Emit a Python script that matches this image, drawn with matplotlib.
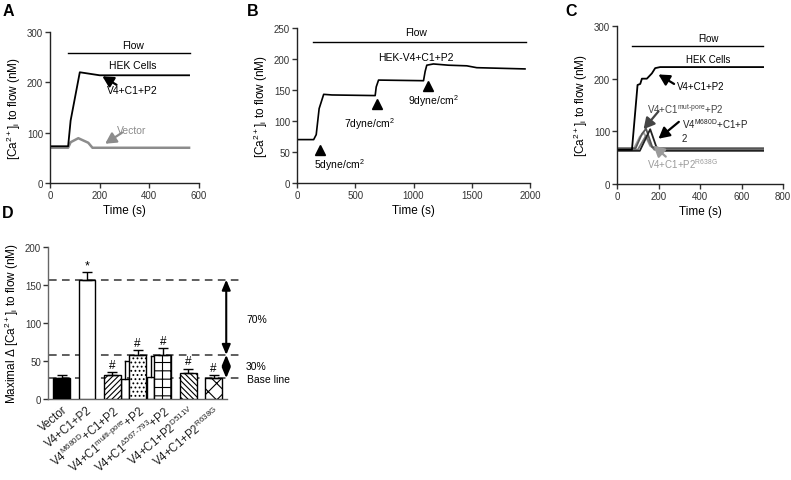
import matplotlib
matplotlib.use("Agg")
import matplotlib.pyplot as plt
import numpy as np

plt.rcParams['font.family'] = ['Liberation Sans', 'DejaVu Sans']
plt.rcParams['mathtext.default'] = 'regular'
plt.rcParams['hatch.linewidth'] = 0.8

# ---------------- data ----------------
# Panel A
a_t_v4 = [0, 73, 83, 120, 200, 560]
a_v4 = [73, 73, 124, 220, 214, 214]
a_t_vec = [0, 73, 83, 114, 154, 171, 560]
a_vec = [70, 70, 81, 89, 80, 70, 70]
a_xticks = [0, 200, 400, 600]
a_yticks = [0, 100, 200, 300]

# Panel B
b_t = [0, 143, 165, 190, 229, 300, 671, 680, 700, 1086, 1100, 1114, 1171, 1300, 1457, 1543, 1957]
b_ca = [70, 70, 78, 120, 143, 142, 141, 155, 166, 165, 180, 190, 192, 190, 189, 186, 184]
b_stim_t = [194, 686, 1123]
b_stim_y = [53, 128, 156]
b_stim_lbl = ['5dyne/cm$^2$', '7dyne/cm$^2$', '9dyne/cm$^2$']
b_xticks = [0, 500, 1000, 1500, 2000]
b_yticks = [0, 50, 100, 150, 200, 250]

# Panel C
c_t_v4 = [0, 72, 99, 112, 120, 144, 168, 184, 208, 704]
c_v4 = [65, 65, 188, 190, 200, 200, 210, 220, 222, 222]
c_t_mut = [0, 90, 120, 140, 170, 200, 704]
c_mut = [68, 68, 95, 105, 70, 68, 68]
c_t_m680 = [0, 110, 160, 190, 220, 704]
c_m680 = [63, 63, 104, 70, 63, 63]
c_t_r638 = [0, 80, 110, 130, 160, 190, 704]
c_r638 = [66, 66, 90, 97, 72, 66, 66]
c_t_x = [0, 100, 140, 160, 180, 704]
c_x = [65, 65, 92, 75, 65, 65]
c_xticks = [0, 200, 400, 600, 800]
c_yticks = [0, 100, 200, 300]

# Panel D
d_labels = ['Vector', 'V4+C1+P2', 'V4$^{M680D}$+C1+P2', 'V4+C1$^{multi\u2010pore}$+P2',
            'V4+C1$^{\u0394567\u2010793}$+P2', 'V4+C1+P2$^{D511V}$', 'V4+C1+P2$^{R638G}$']
d_means = [27.5, 157, 31.5, 58, 58, 34, 27.5]
d_err = [4.5, 10, 4, 6, 9, 6, 4]
d_marks = ['', '*', '#', '#', '#', '#', '#']
d_extra_pos = [2.5, 3.51]
d_extra_means = [26, 28.5]
d_extra_tops = [50, 56.6]
d_levels = [157, 58, 27.5]
d_yticks = [0, 50, 100, 150, 200]

# ---------------- figure ----------------
W, H = 791, 481
fig = plt.figure(figsize=(W / 100, H / 100), dpi=100)


def px_axes(l, t, r, b):
    return fig.add_axes([l / W, 1 - b / H, (r - l) / W, (b - t) / H])


tick_col = '#333333'


def style(ax):
    for s in ['top', 'right']:
        ax.spines[s].set_visible(False)
    for s in ['left', 'bottom']:
        ax.spines[s].set_linewidth(1.0)
        ax.spines[s].set_color('#222222')
    ax.tick_params(direction='out', length=3.5, width=1, labelsize=7, colors=tick_col, pad=1.5)


ylab = '[Ca$^{2+}$]$_i$ to flow (nM)'
arrow_k = dict(arrowstyle='-|>,head_width=0.35,head_length=0.65', lw=1.6, color='k', shrinkA=0, shrinkB=0)

# ---- A ----
axA = px_axes(50, 33, 199, 184)
style(axA)
axA.plot(a_t_vec, a_vec, color='#8c8c8c', lw=1.8)
axA.plot(a_t_v4, a_v4, color='k', lw=1.3)
axA.set_xlim(0, 600)
axA.set_ylim(0, 300)
axA.set_xticks(a_xticks)
axA.set_yticks(a_yticks)
axA.plot([73, 562], [258, 258], color='k', lw=1, clip_on=False)
axA.text(335, 265, 'Flow', ha='center', va='bottom', fontsize=7.5)
axA.text(335, 235, 'HEK Cells', ha='center', va='center', fontsize=7.5)
axA.text(330, 184, 'V4+C1+P2', ha='center', va='center', fontsize=7.5)
axA.annotate('', xy=(211, 212), xytext=(268, 195), arrowprops=arrow_k)
axA.text(330, 106, 'Vector', ha='center', va='center', fontsize=7.5, color='#8c8c8c')
axA.annotate('', xy=(222, 78), xytext=(290, 100),
             arrowprops=dict(arrow_k, color='#8c8c8c'))
axA.set_xlabel('Time (s)', fontsize=8.5, labelpad=3)
axA.set_ylabel(ylab, fontsize=8.5, labelpad=3)

# ---- B ----
axB = px_axes(297, 29, 530, 184)
style(axB)
axB.plot(b_t, b_ca, color='k', lw=1.2)
axB.plot(b_stim_t, b_stim_y, '^', color='k', ms=6.5, clip_on=False)
axB.set_xlim(0, 2000)
axB.set_ylim(0, 250)
axB.set_xticks(b_xticks)
axB.set_yticks(b_yticks)
axB.plot([137, 1963], [227, 227], color='k', lw=1, clip_on=False)
axB.text(1023, 235, 'Flow', ha='center', va='bottom', fontsize=7.5)
axB.text(1023, 204, 'HEK-V4+C1+P2', ha='center', va='center', fontsize=7.5)
b_txt = [(143, 31), (400, 96), (949, 133)]
for (tx, ty), lbl in zip(b_txt, b_stim_lbl):
    axB.text(tx, ty, lbl, ha='left', va='center', fontsize=7.5)
axB.set_xlabel('Time (s)', fontsize=8.5, labelpad=3)
axB.set_ylabel(ylab, fontsize=8.5, labelpad=3)

# ---- C ----
axC = px_axes(617, 27, 783, 185)
style(axC)
axC.plot(c_t_r638, c_r638, color='#a0a0a0', lw=1.3)
axC.plot(c_t_x, c_x, color='#777777', lw=1.3)
axC.plot(c_t_mut, c_mut, color='#555555', lw=1.3)
axC.plot(c_t_m680, c_m680, color='#222222', lw=1.3)
axC.plot(c_t_v4, c_v4, color='k', lw=1.3)
axC.set_xlim(0, 800)
axC.set_ylim(0, 300)
axC.set_xticks(c_xticks)
axC.set_yticks(c_yticks)
axC.plot([72, 704], [262, 262], color='k', lw=1, clip_on=False)
axC.text(440, 267, 'Flow', ha='center', va='bottom', fontsize=7)
axC.text(440, 237, 'HEK Cells', ha='center', va='center', fontsize=7)
axC.text(290, 186, 'V4+C1+P2', ha='left', va='center', fontsize=7)
axC.annotate('', xy=(200, 208), xytext=(275, 190), arrowprops=arrow_k)
axC.text(144, 145, 'V4+C1$^{mut\u2010pore}$+P2', ha='left', va='center', fontsize=7, color='#444444')
axC.annotate('', xy=(128, 104), xytext=(200, 138),
             arrowprops=dict(arrow_k, color='#444444'))
axC.text(312, 116, 'V4$^{M680D}$+C1+P', ha='left', va='center', fontsize=7, color='#222222')
axC.text(312, 87, '2', ha='left', va='center', fontsize=7, color='#222222')
axC.annotate('', xy=(200, 86), xytext=(298, 118), arrowprops=arrow_k)
axC.text(144, 40, 'V4+C1+P2$^{R638G}$', ha='left', va='center', fontsize=7, color='#9a9a9a')
axC.annotate('', xy=(176, 73), xytext=(235, 52),
             arrowprops=dict(arrow_k, color='#9a9a9a'))
axC.set_xlabel('Time (s)', fontsize=8.5, labelpad=3)
axC.set_ylabel(ylab, fontsize=8.5, labelpad=3)

# ---- D ----
axD = px_axes(48, 248, 227, 400)
style(axD)
for s in ['left', 'bottom']:
    axD.spines[s].set_color('#666666')
x = np.arange(len(d_means))
fills = ['black', 'white', 'white', 'white', 'white', 'white', 'white']
hatches = [None, None, '//////', '....', '++', '\\\\\\\\\\\\', 'xx']
bw = 0.67
for i in range(len(d_means)):
    axD.bar(x[i], d_means[i], width=bw, color=fills[i], edgecolor='k', lw=1.0,
            hatch=hatches[i], zorder=3)
    axD.errorbar(x[i], d_means[i], yerr=[[0], [d_err[i]]], fmt='none', ecolor='k',
                 elinewidth=1.0, capsize=3.3, capthick=1.0, zorder=4)
    if d_marks[i]:
        axD.text(x[i], d_means[i] + d_err[i] + 1.5, d_marks[i], ha='center', va='bottom',
                 fontsize=9 if d_marks[i] == '*' else 8.5)
ew = [0.34, 0.30]
for p, m, t, w in zip(d_extra_pos, d_extra_means, d_extra_tops, ew):
    axD.bar(p, m, width=w, color='white', edgecolor='k', lw=1.0, zorder=2)
    axD.plot([p, p], [m, t], color='k', lw=1.0, zorder=2)
    axD.plot([p, p + w / 2], [t, t], color='k', lw=1.0, zorder=2)
dash = dict(color='#333333', lw=1.1, ls=(0, (5, 3.5)), clip_on=False, zorder=1)
for lv in d_levels:
    axD.plot([-0.5, 7.13], [lv, lv], **dash)
darr = dict(arrowstyle='<|-|>,head_width=0.25,head_length=0.6', lw=1.5, color='k',
            shrinkA=0, shrinkB=0)
axD.annotate('', xy=(6.5, d_levels[0]), xytext=(6.5, d_levels[1]), arrowprops=darr,
             annotation_clip=False)
axD.annotate('', xy=(6.5, d_levels[1]), xytext=(6.5, d_levels[2]), arrowprops=darr,
             annotation_clip=False)
axD.text(7.28, 105, '70%', ha='left', va='center', fontsize=7.5)
axD.text(7.28, 43, '30%', ha='left', va='center', fontsize=7.5)
axD.text(7.33, 26, 'Base line', ha='left', va='center', fontsize=7.5)
axD.set_xlim(-0.54, 6.53)
axD.set_ylim(0, 200)
axD.set_yticks(d_yticks)
axD.set_xticks(x)
axD.tick_params(axis='x', length=0, pad=3)
axD.set_xticklabels(d_labels, rotation=40, ha='right', rotation_mode='anchor',
                    fontsize=8.3, color='#222222')
axD.set_ylabel('Maximal \u0394 [Ca$^{2+}$]$_i$ to flow (nM)', fontsize=8.5, labelpad=3)

# panel letters
for lbl, (px, py) in zip('ABCD', [(3, 12), (247, 12), (565, 11), (2, 214)]):
    fig.text(px / W, 1 - py / H, lbl, fontsize=11.5, fontweight='bold', ha='left', va='center')

fig.savefig('out.png', dpi=100)
